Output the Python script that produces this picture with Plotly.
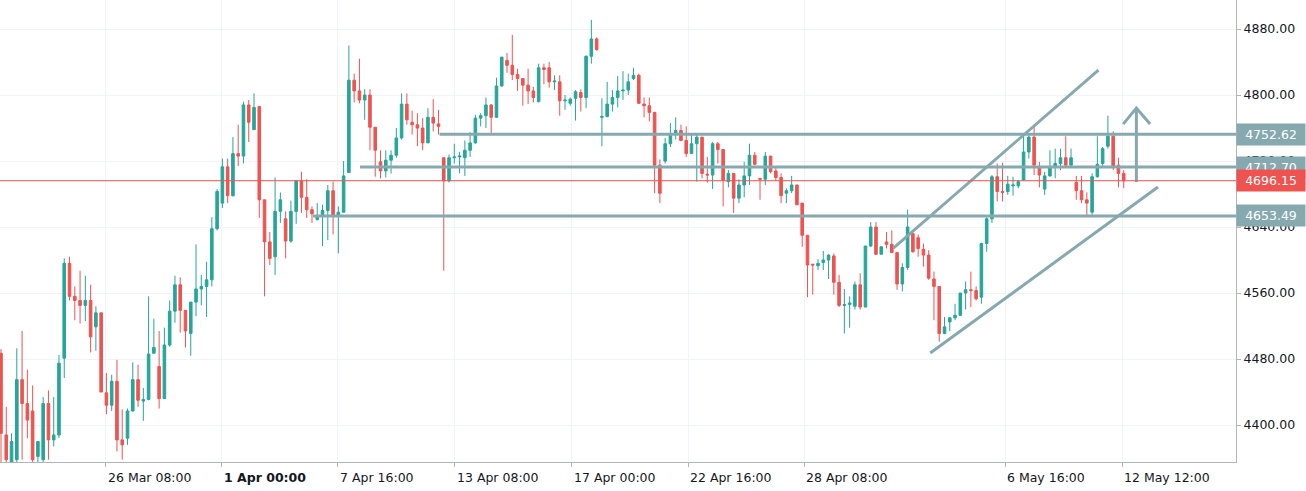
import plotly.graph_objects as go

# OHLC, one candle per slot
open_ = [4487, 4388, 4350, 4358, 4455, 4426, 4417, 4362, 4358, 4426,
         4382, 4388, 4481, 4596, 4556, 4551, 4545, 4551, 4519, 4536,
         4439, 4424, 4453, 4382, 4384, 4417, 4455, 4429, 4431, 4487,
         4471, 4432, 4497, 4538, 4570, 4539, 4511, 4549, 4565, 4568,
         4576, 4638, 4669, 4713, 4678, 4729, 4726, 4788, 4758, 4786,
         4673, 4622, 4604, 4659, 4650, 4623, 4659, 4696, 4676, 4661,
         4649, 4654, 4660, 4684, 4653, 4658, 4706, 4818, 4805, 4794,
         4800, 4761, 4719, 4708, 4721, 4727, 4748, 4789, 4767, 4764,
         4760, 4742, 4773, 4765, 4724, 4696, 4724, 4725, 4724, 4733,
         4742, 4772, 4775, 4788, 4773, 4811, 4842, 4836, 4825, 4820,
         4812, 4805, 4792, 4833, 4833, 4816, 4816, 4793, 4790, 4796,
         4803, 4797, 4847, 4868, 4773, 4774, 4789, 4797, 4805, 4806,
         4820, 4824, 4789, 4787, 4779, 4715, 4720, 4741, 4752, 4757,
         4745, 4729, 4741, 4749, 4704, 4703, 4741, 4734, 4695, 4705,
         4675, 4691, 4702, 4727, 4699, 4698, 4726, 4708, 4700, 4681,
         4684, 4691, 4669, 4630, 4595, 4593, 4597, 4600, 4605, 4573,
         4545, 4546, 4544, 4570, 4543, 4617, 4640, 4607, 4622, 4619,
         4609, 4571, 4591, 4632, 4627, 4613, 4606, 4577, 4568, 4511,
         4525, 4530, 4533, 4560, 4564, 4563, 4555, 4620, 4650, 4701,
         4683, 4683, 4690, 4690, 4697, 4731, 4749, 4712, 4686, 4702,
         4713, 4717, 4724, 4715, 4694, 4684, 4673, 4658, 4701, 4717,
         4738, 4750, 4715, 4705]
high = [4492, 4422, 4390, 4493, 4514, 4467, 4448, 4380, 4434, 4442,
        4434, 4485, 4602, 4604, 4568, 4587, 4581, 4570, 4544, 4536,
        4463, 4461, 4479, 4419, 4420, 4476, 4473, 4445, 4556, 4529,
        4514, 4518, 4551, 4581, 4579, 4539, 4549, 4619, 4582, 4598,
        4652, 4686, 4723, 4723, 4749, 4764, 4792, 4794, 4802, 4787,
        4673, 4634, 4700, 4682, 4659, 4672, 4696, 4707, 4698, 4665,
        4669, 4667, 4691, 4695, 4665, 4720, 4860, 4826, 4844, 4807,
        4807, 4761, 4733, 4733, 4733, 4760, 4802, 4802, 4781, 4778,
        4772, 4784, 4795, 4782, 4724, 4728, 4741, 4731, 4745, 4755,
        4776, 4778, 4797, 4789, 4821, 4846, 4851, 4873, 4832, 4820,
        4832, 4810, 4838, 4838, 4840, 4824, 4824, 4800, 4797, 4806,
        4807, 4848, 4891, 4870, 4796, 4816, 4806, 4823, 4829, 4826,
        4833, 4826, 4797, 4797, 4779, 4722, 4748, 4766, 4773, 4764,
        4762, 4752, 4752, 4749, 4725, 4743, 4743, 4734, 4709, 4705,
        4698, 4719, 4741, 4731, 4699, 4731, 4726, 4712, 4705, 4687,
        4702, 4691, 4669, 4630, 4595, 4601, 4611, 4607, 4608, 4582,
        4565, 4556, 4574, 4584, 4617, 4646, 4646, 4617, 4634, 4636,
        4609, 4596, 4661, 4632, 4631, 4620, 4612, 4586, 4568, 4531,
        4531, 4547, 4560, 4574, 4586, 4568, 4621, 4652, 4703, 4717,
        4718, 4702, 4701, 4697, 4751, 4751, 4764, 4719, 4707, 4733,
        4735, 4735, 4750, 4735, 4702, 4702, 4682, 4705, 4750, 4737,
        4775, 4756, 4724, 4709]
low = [4355, 4355, 4340, 4350, 4358, 4384, 4352, 4355, 4352, 4358,
       4374, 4384, 4457, 4551, 4527, 4523, 4526, 4488, 4490, 4440,
       4413, 4417, 4368, 4358, 4376, 4416, 4422, 4405, 4430, 4487,
       4420, 4432, 4495, 4524, 4512, 4494, 4484, 4532, 4545, 4531,
       4568, 4636, 4663, 4669, 4677, 4714, 4717, 4743, 4758, 4651,
       4556, 4594, 4582, 4645, 4602, 4621, 4644, 4657, 4651, 4645,
       4648, 4617, 4624, 4631, 4608, 4658, 4706, 4791, 4790, 4770,
       4733, 4701, 4699, 4700, 4705, 4724, 4746, 4764, 4752, 4738,
       4733, 4742, 4756, 4752, 4587, 4694, 4717, 4705, 4702, 4725,
       4741, 4762, 4760, 4754, 4772, 4810, 4827, 4818, 4805, 4787,
       4789, 4791, 4791, 4813, 4809, 4806, 4775, 4782, 4787, 4769,
       4780, 4784, 4838, 4854, 4738, 4773, 4780, 4785, 4794, 4800,
       4818, 4789, 4773, 4768, 4681, 4669, 4717, 4737, 4746, 4744,
       4725, 4729, 4695, 4699, 4694, 4686, 4717, 4665, 4688, 4657,
       4669, 4676, 4691, 4715, 4673, 4691, 4705, 4696, 4669, 4669,
       4681, 4667, 4616, 4555, 4558, 4588, 4588, 4577, 4558, 4543,
       4511, 4518, 4540, 4540, 4543, 4616, 4606, 4607, 4614, 4609,
       4564, 4562, 4588, 4609, 4604, 4592, 4576, 4527, 4501, 4510,
       4514, 4527, 4532, 4540, 4543, 4551, 4547, 4610, 4645, 4671,
       4671, 4679, 4678, 4687, 4696, 4723, 4703, 4688, 4679, 4701,
       4699, 4709, 4713, 4713, 4673, 4669, 4652, 4652, 4700, 4714,
       4735, 4709, 4688, 4687]
close = [4390, 4358, 4380, 4455, 4426, 4406, 4358, 4380, 4426, 4382,
         4388, 4475, 4596, 4556, 4551, 4545, 4551, 4507, 4536, 4440,
         4424, 4453, 4382, 4376, 4417, 4455, 4430, 4431, 4486, 4494,
         4432, 4497, 4538, 4570, 4539, 4514, 4549, 4565, 4568, 4576,
         4638, 4683, 4713, 4678, 4729, 4726, 4788, 4767, 4785, 4673,
         4622, 4602, 4659, 4673, 4623, 4659, 4696, 4676, 4661, 4656,
         4654, 4660, 4684, 4653, 4658, 4702, 4818, 4805, 4794, 4800,
         4761, 4733, 4708, 4721, 4727, 4748, 4789, 4770, 4764, 4760,
         4742, 4773, 4766, 4762, 4696, 4724, 4725, 4726, 4733, 4742,
         4772, 4775, 4788, 4773, 4811, 4846, 4836, 4825, 4820, 4812,
         4805, 4797, 4833, 4831, 4816, 4817, 4793, 4794, 4795, 4804,
         4797, 4847, 4868, 4855, 4774, 4789, 4797, 4805, 4806, 4816,
         4824, 4790, 4787, 4779, 4715, 4681, 4741, 4752, 4757, 4745,
         4729, 4741, 4749, 4705, 4703, 4741, 4734, 4697, 4705, 4675,
         4691, 4702, 4727, 4716, 4698, 4726, 4707, 4700, 4678, 4684,
         4691, 4667, 4630, 4594, 4594, 4596, 4600, 4606, 4573, 4545,
         4546, 4548, 4570, 4543, 4617, 4640, 4607, 4616, 4619, 4609,
         4571, 4591, 4640, 4610, 4614, 4606, 4578, 4568, 4511, 4519,
         4530, 4533, 4560, 4564, 4563, 4553, 4620, 4650, 4701, 4683,
         4682, 4692, 4691, 4695, 4731, 4749, 4715, 4703, 4702, 4713,
         4717, 4724, 4715, 4724, 4684, 4673, 4669, 4701, 4716, 4735,
         4750, 4713, 4705, 4696]

# time axis (bar index of each grid line) and its labels
tick_pos = [19.9, 41.9, 63.9, 86.1, 108.3, 130.4, 152.4, 190.5, 212.7]
tick_labels = ['26 Mar 08:00', '<b>1 Apr 00:00</b>', '7 Apr 16:00', '13 Apr 08:00',
               '17 Apr 00:00', '22 Apr 16:00', '28 Apr 08:00', '6 May 16:00', '12 May 12:00']
price_ticks = [4400, 4480, 4560, 4640, 4720, 4800, 4880]

# drawn levels: (price, first bar)
levels = [(4752.62, 83.2), (4712.70, 68.1), (4653.49, 59.2)]
last_price = 4696.15
channel_upper = [(169.3, 4614.5), (208.2, 4830.3)]
channel_lower = [(176.3, 4487.3), (219.5, 4688.5)]

GREEN = '#26a69a'
RED = '#ef5350'
LEVEL = '#86a9b0'

x = list(range(len(close)))
fig = go.Figure(go.Candlestick(
    x=x, open=open_, high=high, low=low, close=close,
    increasing=dict(line=dict(color=GREEN, width=1), fillcolor=GREEN),
    decreasing=dict(line=dict(color=RED, width=1), fillcolor=RED),
    whiskerwidth=0, showlegend=False,
))

shapes = []
for p, start in levels:
    shapes.append(dict(type='line', xref='x', yref='y', x0=start, x1=240, y0=p, y1=p,
                       line=dict(color=LEVEL, width=3)))
for (x0, y0), (x1, y1) in [channel_upper, channel_lower]:
    shapes.append(dict(type='line', xref='x', yref='y', x0=x0, y0=y0, x1=x1, y1=y1,
                       line=dict(color=LEVEL, width=3)))
# projection arrow
shapes.append(dict(type='line', xref='x', yref='y', x0=215.4, x1=215.4, y0=4694.5, y1=4784.2,
                   line=dict(color=LEVEL, width=3)))
shapes.append(dict(type='path', xref='x', yref='y',
                   path='M 212.9 4764.8 L 215.4 4784.2 L 218.0 4764.8',
                   line=dict(color=LEVEL, width=3)))
shapes.append(dict(type='line', xref='paper', yref='y', x0=0, x1=1, y0=last_price, y1=last_price,
                   line=dict(color=RED, width=1)))

annotations = []
for pos, lab in zip(tick_pos, tick_labels):
    annotations.append(dict(x=pos, y=0, xref='x', yref='paper', text=lab, showarrow=False,
                            xanchor='left', yanchor='top', yshift=-6,
                            font=dict(size=12.5, color='#131722')))
for p, _ in levels:
    annotations.append(dict(x=1, y=p, xref='paper', yref='y', text=f'{p:.2f}', showarrow=False,
                            xanchor='left', bgcolor=LEVEL, borderpad=3, width=62,
                            font=dict(size=12.5, color='white')))
annotations.append(dict(x=1, y=last_price, xref='paper', yref='y', text=f'{last_price:.2f}',
                        showarrow=False, xanchor='left', bgcolor=RED, borderpad=3, width=62,
                        font=dict(size=12.5, color='white')))

fig.update_layout(
    width=1306, height=491,
    margin=dict(l=0, r=70, t=0, b=29),
    plot_bgcolor='white', paper_bgcolor='white',
    font=dict(family='DejaVu Sans', size=12.5, color='#131722'),
    shapes=shapes, annotations=annotations,
    xaxis=dict(range=[-0.19, 234.3], rangeslider=dict(visible=False),
               tickvals=tick_pos, ticktext=['' for _ in tick_pos], ticks='outside', ticklen=4,
               tickcolor='#b2b5be', showgrid=True, gridcolor='#f0f3fa', zeroline=False,
               showline=True, linecolor='#b2b5be', fixedrange=True),
    yaxis=dict(side='right', range=[4355.2, 4915.2], tickvals=price_ticks,
               ticktext=[f'{v:.2f}' for v in price_ticks], ticks='outside', ticklen=4,
               tickcolor='#b2b5be', showgrid=True, gridcolor='#f0f3fa', zeroline=False,
               showline=True, linecolor='#b2b5be'),
    hovermode=False,
)

fig.write_html("out.html", config={'displayModeBar': False},
               post_script="document.body.style.margin='0';")
